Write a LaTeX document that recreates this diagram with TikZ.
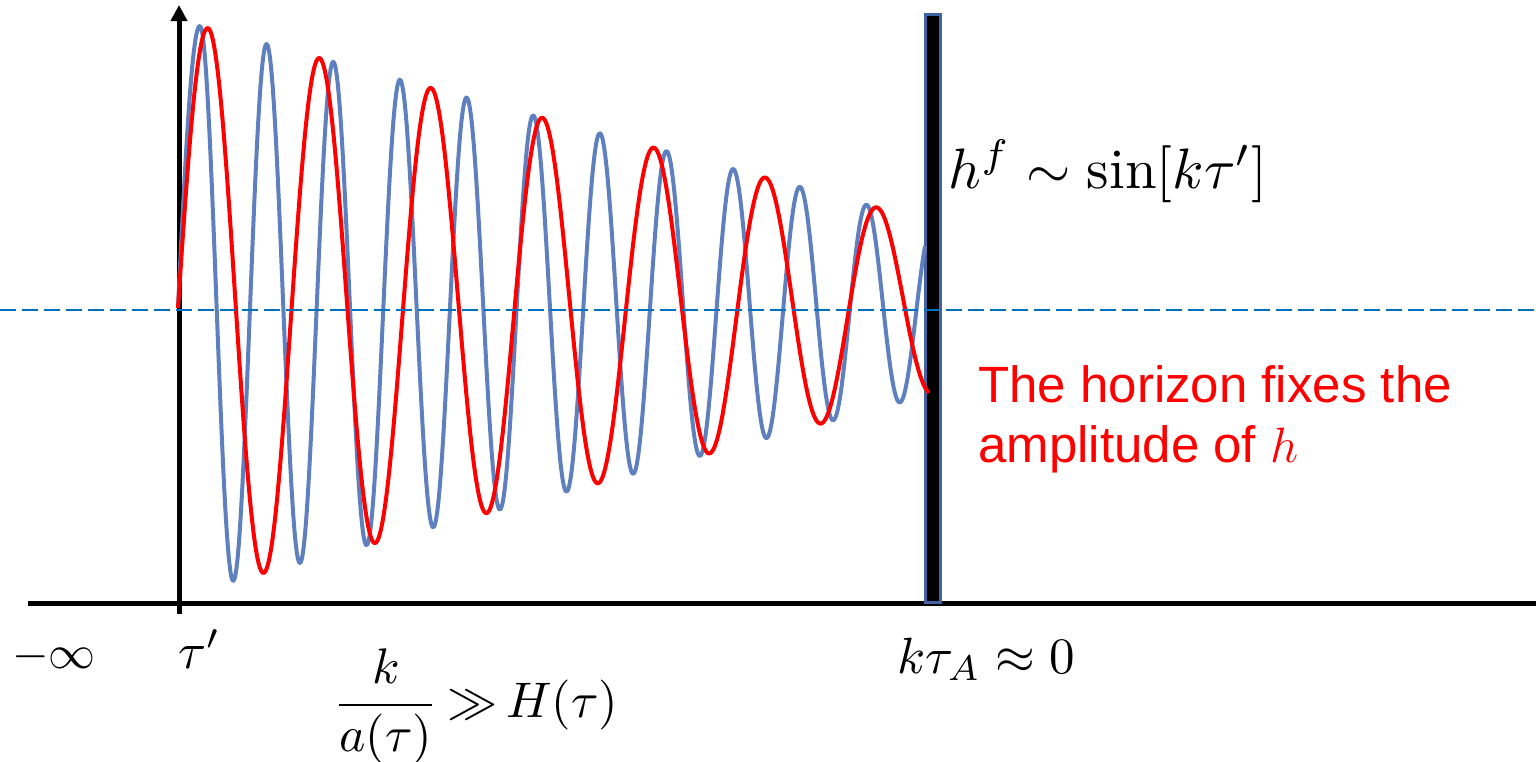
\documentclass[tikz,border=0pt]{standalone}
\usepackage{graphicx}
\usepackage{fontspec}
\setsansfont{Liberation Sans}
\usetikzlibrary{arrows.meta}
\definecolor{wblue}{RGB}{95,128,190}
\definecolor{dblue}{RGB}{0,112,192}
\definecolor{bborder}{RGB}{65,100,165}
\tikzset{
  axisline/.style={line width=2.5pt, black},
  wave/.style={line width=2pt, line join=round},
  mathlabel/.style={anchor=base west, inner sep=0pt},
  redlabel/.style={anchor=base west, inner sep=0pt, text=red, font=\sffamily\fontsize{25.5}{30}\selectfont},
}
\begin{document}
\begin{tikzpicture}[x={(0.5pt,0)}, y={(0,-0.5pt)}]
\useasboundingbox (0,0) rectangle (1536,761);
% axes
\coordinate (hx0) at (28,603);
\coordinate (hx1) at (1536,603);
\coordinate (vy0) at (179,614);
\coordinate (vy1) at (179,5);
\draw[axisline] (hx0) -- (hx1);
\draw[axisline, -{Triangle[width=8pt,length=8pt]}] (vy0) -- (vy1);
% horizon bar
\draw[fill=black, draw=bborder, line width=1.5pt] (925.5,14) rectangle (940.5,602);
% waves
\draw[wave, wblue] plot[domain=178:200, samples=25] (\x, {308-(282-0.268*(\x-200))*sin(4.0909*(\x-178))})
  -- plot[domain=200:925, samples=600] (\x, {308-(282-0.268*(\x-200))*cos(5.4*(\x-200))});
\draw[wave, red] plot[domain=178:208, samples=25] (\x, {308-(282-0.268*(\x-200))*sin(3*(\x-178))})
  -- plot[domain=208:929, samples=600] (\x, {308-(282-0.268*(\x-200))*cos(3.2287*(\x-208))});
% dashed mid line
\coordinate (d0) at (0,310);
\coordinate (d1) at (1536,310);
\draw[dblue, line width=1pt, dash pattern=on 8pt off 3pt] (d0) -- (d1);
% labels
\node[mathlabel] (minf) at (12,668) {\scalebox{2.35}{$-\infty$}};
\node[mathlabel] (taup) at (178,668) {\scalebox{2.55}{$\tau'$}};
\node[mathlabel] (ktau) at (897,673) {\scalebox{2.55}{$k\tau_A \approx 0$}};
\node[mathlabel] (cond) at (333,717) {\scalebox{2.5}{$\displaystyle\frac{k}{a(\tau)}\mskip-1.5mu\gg\mskip-2mu H(\tau)$}};
\node[mathlabel] (hf) at (948,188) {\scalebox{2.85}{$h^f \sim \sin[k\tau']$}};
\node[redlabel] (r1) at (978,402) {The horizon fixes the};
\node[redlabel] (r2) at (978,462) {amplitude of $h$};
\end{tikzpicture}
\end{document}
